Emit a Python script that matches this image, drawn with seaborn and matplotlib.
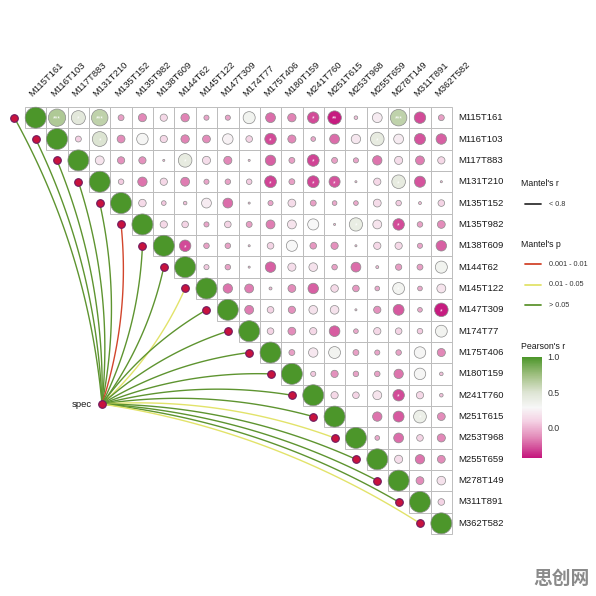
import numpy as np
import pandas as pd
import matplotlib
matplotlib.use("Agg")
import matplotlib.pyplot as plt
import seaborn as sns
from matplotlib.colors import LinearSegmentedColormap, Normalize
from matplotlib.patches import Rectangle
from matplotlib.cm import ScalarMappable

sns.set_theme(style="white")
plt.rcParams["font.family"] = ["Liberation Sans", "DejaVu Sans"]

# ---------------- data ----------------
names = ["M115T161", "M116T103", "M117T883", "M131T210", "M135T152", "M135T982",
         "M138T609", "M144T62", "M145T122", "M147T309", "M174T77", "M175T406",
         "M180T159", "M241T760", "M251T615", "M253T968", "M255T659", "M278T149",
         "M311T891", "M362T582"]

# upper triangle Pearson's r, row i holds columns i+1 .. 19
r_rows = [
    [0.68, 0.45, 0.62, -0.08, -0.15, 0.12, -0.16, -0.06, -0.06, 0.33, -0.22, -0.16, -0.30, -0.42, 0.03, 0.22, 0.62, -0.30, -0.08],
    [0.08, 0.50, -0.14, 0.30, 0.12, -0.16, -0.14, 0.25, 0.10, -0.30, -0.15, -0.05, -0.22, 0.20, 0.42, 0.22, -0.28, -0.25],
    [0.18, -0.12, -0.12, 0.01, 0.42, 0.15, -0.15, 0.01, -0.25, -0.08, -0.32, -0.08, -0.06, -0.20, 0.15, -0.18, 0.12],
    [0.07, -0.20, 0.12, -0.18, -0.06, -0.07, 0.07, -0.32, -0.08, -0.32, -0.28, 0.01, 0.12, 0.42, -0.28, 0.01],
    [0.13, 0.05, 0.03, 0.22, -0.22, 0.01, -0.06, 0.14, -0.08, -0.05, -0.05, 0.14, 0.07, 0.02, 0.10],
    [0.12, 0.10, -0.06, 0.10, -0.08, -0.18, 0.18, 0.28, 0.01, 0.40, 0.18, -0.30, -0.07, -0.14],
    [-0.30, -0.07, -0.07, 0.01, 0.10, 0.28, -0.10, -0.12, 0.01, 0.12, 0.12, -0.06, -0.25],
    [0.06, -0.07, 0.01, -0.25, 0.15, 0.17, -0.07, -0.22, 0.02, -0.09, -0.08, 0.33],
    [-0.20, -0.18, 0.02, -0.14, -0.25, 0.13, -0.10, -0.05, 0.32, -0.05, 0.18],
    [-0.18, 0.10, -0.12, 0.17, 0.17, 0.01, -0.12, -0.27, -0.05, -0.42],
    [0.10, -0.14, 0.12, -0.26, -0.05, 0.12, 0.10, 0.07, 0.32],
    [-0.08, 0.20, 0.32, -0.08, -0.06, -0.07, 0.30, -0.15],
    [0.06, -0.12, -0.07, -0.07, -0.20, 0.30, 0.03],
    [0.12, 0.10, 0.18, -0.30, 0.12, 0.03],
    [0.00, -0.20, -0.27, 0.37, -0.14],
    [-0.05, -0.22, 0.10, -0.15],
    [0.15, -0.20, -0.14],
    [-0.14, 0.17],
    [0.10],
]

star_row = [0, 0, 0, 0, 0, 0, 1, 1, 1, 2, 2, 3, 3, 3, 3, 5, 5, 6, 8, 9, 13, 14]
star_col = [1, 2, 3, 13, 14, 17, 3, 11, 16, 7, 13, 11, 13, 14, 17, 15, 17, 7, 17, 19, 17, 18]
star_lab = ["***", "*", "***", "*", "**", "***", "*", "*", "*", "*", "*", "*", "*", "*", "*",
            "*", "*", "*", "*", "*", "*", "*"]

# Mantel test p category for each variable vs spec
mantel_p = [">0.05", ">0.05", ">0.05", ">0.05", ">0.05", "0.001-0.01", ">0.05", ">0.05",
            "0.01-0.05", ">0.05", ">0.05", ">0.05", ">0.05", ">0.05", ">0.05", "0.01-0.05",
            ">0.05", ">0.05", ">0.05", "0.01-0.05"]
p_colors = {"0.001-0.01": "#d2452c", "0.01-0.05": "#e2e36a", ">0.05": "#5e9430"}
p_labels = [("0.001-0.01", "0.001 - 0.01"), ("0.01-0.05", "0.01 - 0.05"), (">0.05", "> 0.05")]

# ---------------- build table ----------------
n = len(names)
recs = []
for i in range(n):
    recs.append(dict(x=i, y=i, r=1.0))
    for k, v in enumerate(r_rows[i] if i < len(r_rows) else []):
        recs.append(dict(x=i + 1 + k, y=i, r=v))
cells = pd.DataFrame(recs)
cells["absr"] = cells["r"].abs()

rmin, rmax = -0.44, 1.0
cmap = LinearSegmentedColormap.from_list(
    "pr",
    [((v - rmin) / (rmax - rmin), c) for v, c in [
        (-0.44, "#c4157c"), (-0.15, "#e289b8"), (0.08, "#f4d0e3"), (0.28, "#f7f7f7"),
        (0.5, "#dde4d3"), (0.75, "#9fbf80"), (1.0, "#4c962a")]])
norm = Normalize(rmin, rmax)

# ---------------- figure ----------------
fig = plt.figure(figsize=(5.96, 5.96), dpi=100)
ax = fig.add_axes([0, 0, 1, 1])
CELL, X0, Y0 = 21.35, 25.0, 107.0


def P(x, y):
    return (-0.5 + (x - X0) / CELL, -0.5 + (y - Y0) / CELL)


ax.set_xlim(P(0, 0)[0], P(596, 0)[0])
ax.set_ylim(P(0, 596)[1], P(0, 0)[1])
ax.axis("off")

# grid cells
for _, row in cells.iterrows():
    ax.add_patch(Rectangle((row.x - 0.5, row.y - 0.5), 1, 1, fill=False,
                           ec="#bdbdbd", lw=0.7, zorder=1))

# circles
sns.scatterplot(data=cells, x="x", y="y", hue="r", palette=cmap, hue_norm=norm,
                size="absr", sizes=(0, 228), size_norm=(0, 1), edgecolor="#8c8c8c",
                linewidth=0.5, legend=False, ax=ax, zorder=3)

for rr, cc, lab in zip(star_row, star_col, star_lab):
    ax.text(cc, rr + 0.08, lab, color="white", fontsize=4.8, ha="center", va="center", zorder=4)

# labels
for i, nm in enumerate(names):
    ax.text(19.78, i, nm, ha="left", va="center", fontsize=6.8, color="#1a1a1a")
    ax.text(i - 0.15, -0.95, nm, ha="left", va="baseline", rotation=45,
            rotation_mode="anchor", fontsize=6.8, color="#1a1a1a")

# Mantel links
spec = np.array(P(102, 404))
ends = pd.DataFrame(dict(x=np.arange(n) - 1.0, y=np.arange(n, dtype=float), p=mantel_p))
t = np.linspace(0, 1, 80)[:, None]
for _, e in ends.iterrows():
    p2 = np.array([e.x, e.y])
    d = p2 - spec
    L = np.hypot(*d)
    perp = np.array([-d[1], d[0]]) / L
    if perp[0] - perp[1] < 0:
        perp = -perp
    c = (spec + p2) / 2 + 0.105 * L * perp
    b = (1 - t) ** 2 * spec + 2 * (1 - t) * t * c + t ** 2 * p2
    ax.plot(b[:, 0], b[:, 1], color=p_colors[e.p], lw=1.0, zorder=2, solid_capstyle="round")

nodes = pd.concat([ends[["x", "y"]], pd.DataFrame(dict(x=[spec[0]], y=[spec[1]]))])
sns.scatterplot(data=nodes, x="x", y="y", color="#c8123e", edgecolor="#6e1a5e",
                linewidth=0.8, s=30, legend=False, ax=ax, zorder=5)
ax.text(*P(92, 404), "spec", ha="right", va="center", fontsize=6.8, color="#1a1a1a")

# legends
ax.text(*P(521, 183), "Mantel's r", fontsize=6.3, ha="left", va="center", color="#1a1a1a")
ax.plot(*zip(P(525, 204), P(541, 204)), color="#333333", lw=1.3)
ax.text(*P(549, 204), "< 0.8", fontsize=5.2, ha="left", va="center", color="#333333")
ax.text(*P(521, 244), "Mantel's p", fontsize=6.3, ha="left", va="center", color="#1a1a1a")
for k, (key, lab) in enumerate(p_labels):
    yy = 264 + 20.5 * k
    ax.plot(*zip(P(525, yy), P(541, yy)), color=p_colors[key], lw=1.3)
    ax.text(*P(549, yy), lab, fontsize=5.2, ha="left", va="center", color="#333333")
ax.text(*P(521, 346), "Pearson's r", fontsize=6.3, ha="left", va="center", color="#1a1a1a")

cax = fig.add_axes([522 / 596, 1 - 458 / 596, 20 / 596, 101 / 596])
cb = fig.colorbar(ScalarMappable(norm=norm, cmap=cmap), cax=cax, ticks=[0.0, 0.5, 1.0])
cb.outline.set_visible(False)
cb.ax.set_yticklabels(["0.0", "0.5", "1.0"])
cax.tick_params(axis="y", length=4, width=0.8, color="white", direction="in",
                labelsize=6.3, labelcolor="#333333", pad=4)

# watermark
fig.text(561 / 596, 1 - 578 / 596, "思创网", ha="center", va="center", fontsize=13.5,
         fontweight="bold", color="#8a8a8a",
         family=["Noto Sans CJK SC", "DejaVu Sans"])

fig.savefig("out.png", dpi=100)
